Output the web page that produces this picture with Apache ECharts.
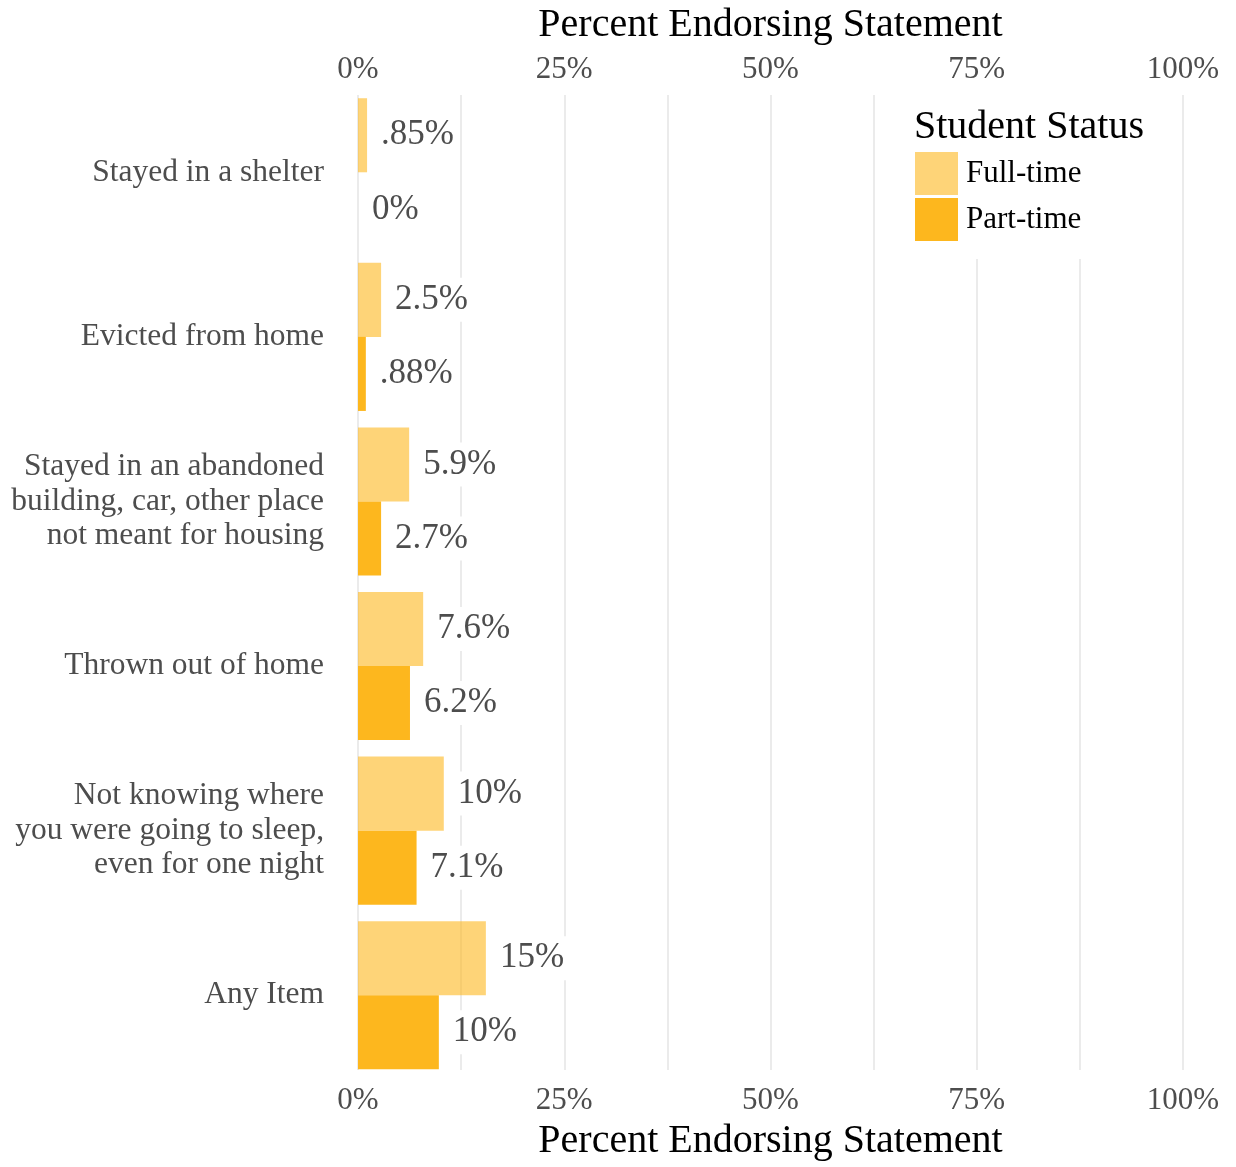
<!DOCTYPE html>
<html>
<head>
<meta charset="utf-8">
<script src="https://cdn.jsdelivr.net/npm/echarts@6/dist/echarts.min.js"></script>
<style>
html,body{margin:0;padding:0;background:#fff;}
#chart{width:1236px;height:1167px;}
</style>
</head>
<body>
<div id="chart"></div>
<script>
const categories = [
  "Stayed in a shelter",
  "Evicted from home",
  "Stayed in an abandoned\nbuilding, car, other place\nnot meant for housing",
  "Thrown out of home",
  "Not knowing where\nyou were going to sleep,\neven for one night",
  "Any Item"
];
const fullTimeValues = [1.1, 2.8, 6.2, 7.9, 10.4, 15.5];
const partTimeValues = [0, 0.95, 2.8, 6.3, 7.1, 9.8];
const fullTimeLabels = [".85%", "2.5%", "5.9%", "7.6%", "10%", "15%"];
const partTimeLabels = ["0%", ".88%", "2.7%", "6.2%", "7.1%", "10%"];
const tickLabels = {0: "0%", 25: "25%", 50: "50%", 75: "75%", 100: "100%"};
const seriesNames = ["Full-time", "Part-time"];

const FONT = "Liberation Serif";
const GRAY = "#4d4d4d";
const axisTitle = "Percent Endorsing Statement";

function xAxisCfg(pos, nameGap, labelMargin) {
  return {
    type: "value",
    gridIndex: 0,
    position: pos,
    min: 0, max: 100, interval: 12.5,
    name: axisTitle,
    nameLocation: "middle",
    nameGap: nameGap,
    nameTextStyle: {fontFamily: FONT, fontSize: 40, color: "#000"},
    axisLine: {show: false},
    axisTick: {show: false},
    axisLabel: {
      fontFamily: FONT, fontSize: 31, color: GRAY, margin: labelMargin,
      showMinLabel: true, showMaxLabel: true, hideOverlap: false,
      formatter: v => (tickLabels[v] !== undefined ? tickLabels[v] : "")
    },
    splitLine: {show: false}
  };
}

function labelCfg(arr) {
  return {
    show: true,
    position: "right",
    distance: 9,
    fontFamily: FONT,
    fontSize: 35,
    color: GRAY,
    backgroundColor: "#fff",
    padding: [9, 5, 0, 5],
    formatter: p => arr[p.dataIndex]
  };
}

const chart = echarts.init(document.getElementById("chart"), null, {renderer: "canvas"});
chart.setOption({
  animation: false,
  backgroundColor: "#fff",
  textStyle: {fontFamily: FONT},
  title: {
    text: "Student Status",
    left: 914, top: 107,
    padding: 0,
    textStyle: {fontFamily: FONT, fontSize: 40, fontWeight: "normal", color: "#000"}
  },
  legend: {
    orient: "vertical",
    left: 900, top: 95,
    padding: [57, 60, 18, 15],
    backgroundColor: "#fff",
    itemWidth: 43, itemHeight: 43, itemGap: 3,
    icon: "rect",
    selectedMode: false,
    data: seriesNames,
    textStyle: {fontFamily: FONT, fontSize: 31, color: "#000", padding: [3, 0, 0, 3]}
  },
  grid: [
    {left: 358, right: 53, top: 87.5, bottom: 89.5, containLabel: false},
    {left: 358, right: 53, top: 95, bottom: 97, containLabel: false}
  ],
  xAxis: [
    xAxisCfg("bottom", 44, 8),
    xAxisCfg("top", 45, 5),
    {
      type: "value", gridIndex: 1, min: 0, max: 100, interval: 12.5,
      axisLine: {show: false}, axisTick: {show: false}, axisLabel: {show: false},
      splitLine: {show: true, lineStyle: {color: "#EBEBEB", width: 2}}
    }
  ],
  yAxis: [
    {
      type: "category",
      gridIndex: 0,
      inverse: true,
      data: categories,
      axisLine: {show: false},
      axisTick: {show: false},
      splitLine: {show: false},
      axisLabel: {fontFamily: FONT, fontSize: 31.5, color: GRAY, margin: 34, lineHeight: 34.5, align: "right"}
    },
    {
      type: "value", gridIndex: 1, min: 0, max: 1,
      axisLine: {show: false}, axisTick: {show: false}, axisLabel: {show: false},
      splitLine: {show: false}
    }
  ],
  series: [
    {
      name: seriesNames[0], type: "bar", xAxisIndex: 0, yAxisIndex: 0,
      data: fullTimeValues,
      barGap: "0%", barCategoryGap: "10%",
      itemStyle: {color: "rgba(253,183,30,0.6)"},
      label: labelCfg(fullTimeLabels)
    },
    {
      name: seriesNames[1], type: "bar", xAxisIndex: 0, yAxisIndex: 0,
      data: partTimeValues,
      barGap: "0%", barCategoryGap: "10%",
      itemStyle: {color: "#FDB71E"},
      label: labelCfg(partTimeLabels)
    }
  ]
});
</script>
</body>
</html>
